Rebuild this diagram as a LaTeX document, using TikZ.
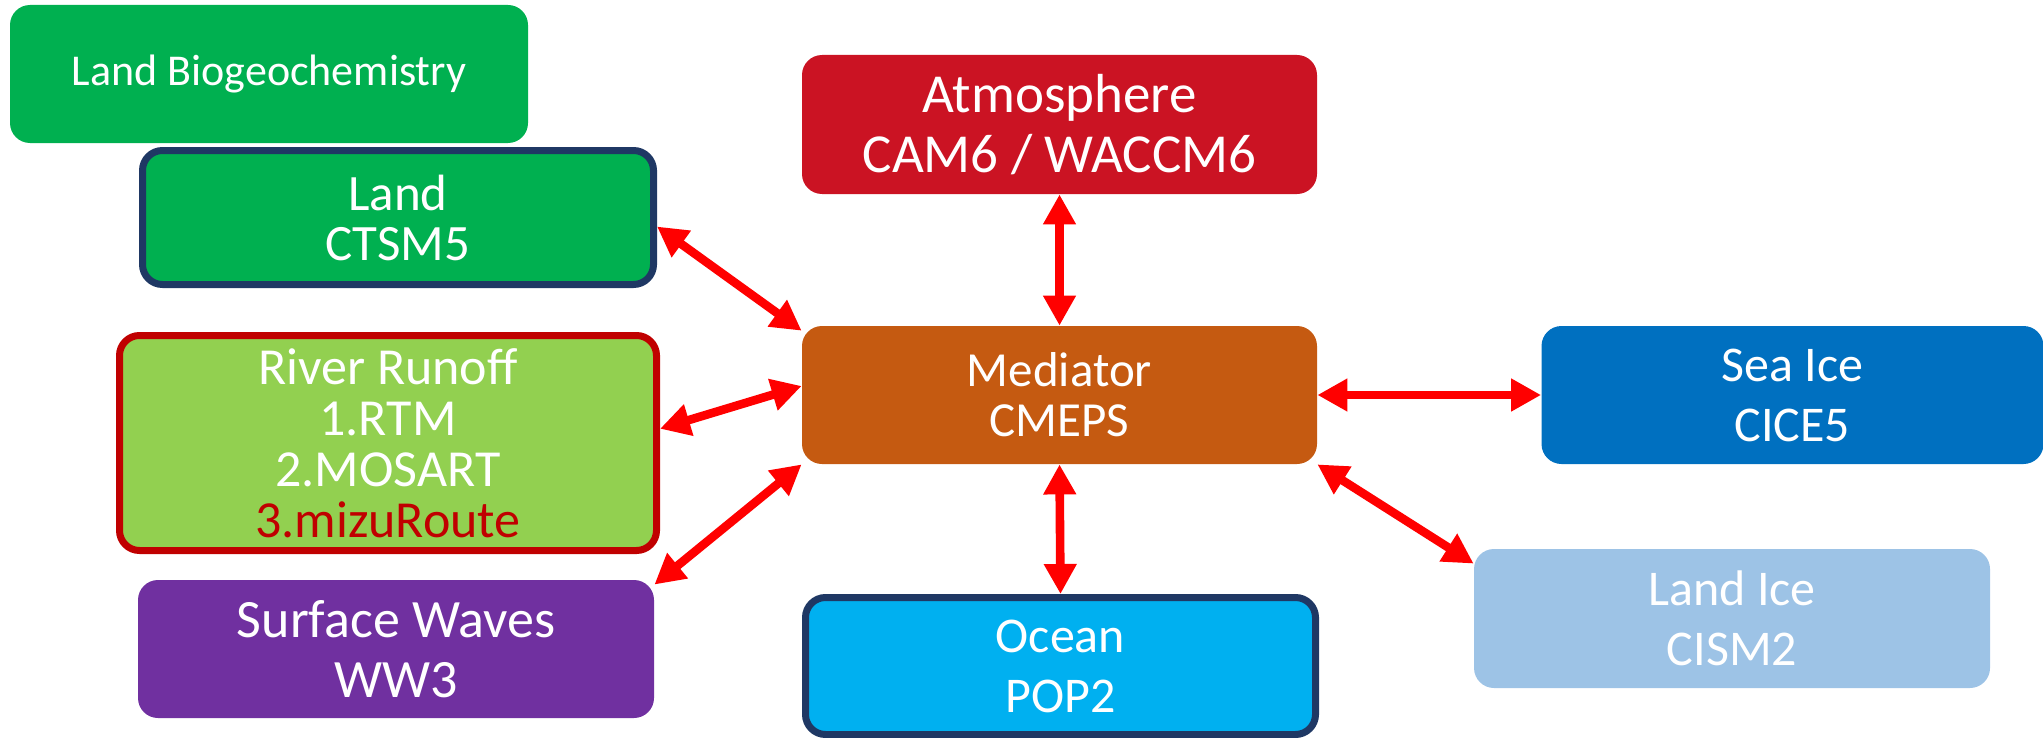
\documentclass[tikz,border=0pt]{standalone}
\usepackage{fontspec}
\setmainfont{Carlito}
\usetikzlibrary{arrows.meta}
\definecolor{lgreen}{HTML}{00B050}
\definecolor{navy}{HTML}{1F3864}
\definecolor{rgreen}{HTML}{92D050}
\definecolor{dred}{HTML}{C00000}
\definecolor{wpurple}{HTML}{7030A0}
\definecolor{atmred}{HTML}{CB1323}
\definecolor{medorange}{HTML}{C55A11}
\definecolor{seablue}{HTML}{0070C0}
\definecolor{iceblue}{HTML}{9DC3E6}
\definecolor{oceanblue}{HTML}{00B0F0}
\definecolor{arrowred}{HTML}{FF0000}
\begin{document}
\begin{tikzpicture}[x=0.5pt,y=-0.5pt,
  box/.style={rounded corners=10pt, inner sep=0pt, text=white, align=center,
    font=\fontsize{25}{30}\selectfont},
  link/.style={draw=arrowred, line width=4.3pt,
    {Triangle[width=15.5pt,length=15pt]}-{Triangle[width=15.5pt,length=15pt]}}]
\useasboundingbox (0,0) rectangle (2043,738);

\node[box, fill=lgreen, minimum width=259pt, minimum height=69pt,
  font=\fontsize{22}{26}\selectfont] (lb) at (269,74) {Land Biogeochemistry};
\node[box, fill=lgreen, draw=navy, line width=3.5pt, minimum width=255.5pt, minimum height=67pt,
  font=\fontsize{25.5}{25}\selectfont] (land) at (398,217.5) {Land\\CTSM5};
\node[box, fill=rgreen, draw=dred, line width=3.5pt, minimum width=268.5pt, minimum height=107.5pt,
  font=\fontsize{26}{25.5}\selectfont] (river) at (388,443)
  {River Runoff\\1.RTM\\2.MOSART\\\textcolor{dred}{3.mizuRoute}};
\node[box, fill=wpurple, minimum width=258pt, minimum height=69pt,
  font=\fontsize{27}{30}\selectfont] (waves) at (396,649) {Surface Waves\\WW3};
\node[box, fill=atmred, minimum width=257.5pt, minimum height=69.5pt,
  font=\fontsize{27.5}{30}\selectfont] (atm) at (1059.5,124.5) {Atmosphere\\CAM6 / WACCM6};
\node[box, fill=medorange, minimum width=257.5pt, minimum height=69pt,
  font=\fontsize{24.5}{25}\selectfont] (med) at (1059.5,395) {Mediator\\CMEPS};
\node[box, fill=seablue, minimum width=251pt, minimum height=69pt] (sea) at (1792.5,395) {Sea Ice\\CICE5};
\node[box, fill=iceblue, minimum width=258pt, minimum height=69.5pt] (landice) at (1732,618.5) {Land Ice\\CISM2};
\node[box, fill=oceanblue, draw=navy, line width=3.5pt, minimum width=255pt, minimum height=68.5pt] (ocean) at (1060.5,666) {Ocean\\POP2};

\draw[link] (atm.south) -- (med.north);
\draw[link] (med.south) -- (ocean.north);
\draw[link] (med.east) -- (sea.west);
\draw[link] (med.south east) -- (landice.168);
\draw[link] (land.-2) -- (med.166);
\draw[link] (river.3) -- (med.178);
\draw[link] (waves.14) -- (med.south west);
\end{tikzpicture}
\end{document}
